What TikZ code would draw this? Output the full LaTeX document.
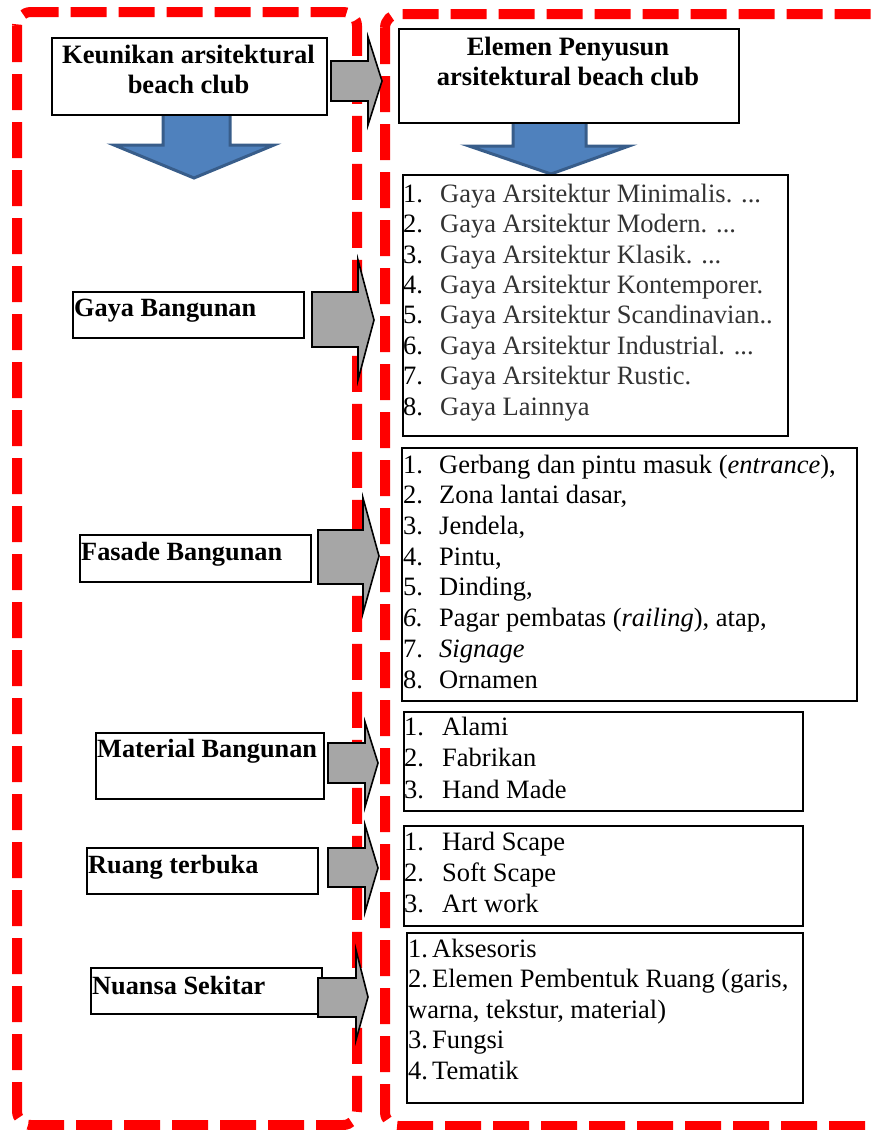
\documentclass[tikz,border=0pt]{standalone}
\usepackage{fontspec}
\setmainfont{Liberation Serif}
\definecolor{blueA}{HTML}{4F81BD}
\definecolor{blueB}{HTML}{385D8A}
\definecolor{grayA}{HTML}{A6A6A6}
\tikzset{
  redframe/.style={draw=red, line width=10pt, dash pattern=on 36pt off 12pt, rounded corners=14pt},
  labelbox/.style={draw=black, line width=1.8pt, fill=white, inner sep=0pt, anchor=north west},
  grayarrow/.style={fill=grayA, draw=black, line width=1.6pt, line join=miter},
  bluearrow/.style={fill=blueA, draw=blueB, line width=3pt},
  boldtext/.style={font=\bfseries\fontsize{26.3}{30}\selectfont, inner sep=0pt, anchor=base west},
  headtext/.style={font=\bfseries\fontsize{26.5}{30}\selectfont, inner sep=0pt, anchor=base, align=center},
  listtext/.style={inner sep=0pt, anchor=base west, align=left},
}
\newcommand\garrow[8]{\draw[grayarrow] (#1,#4) -- (#2,#4) -- (#2,#6) -- (#3,#8) -- (#2,#7) -- (#2,#5) -- (#1,#5) -- cycle;}
\newcommand\nm[2]{\makebox[#1pt][l]{#2}}
\begin{document}
\begin{tikzpicture}[x=1pt,y=-1pt]
\useasboundingbox (0,0) rectangle (871,1130);
\clip (0,0) rectangle (871,1130);
% red dashed frames
\draw[redframe] (17,12) rectangle (357,1125);
\draw[redframe] (385,14) rectangle (900,1126);
% blue arrows
\draw[bluearrow] (163,114) -- (230,114) -- (230,145) -- (274,145) -- (194,178) -- (114,145) -- (163,145) -- cycle;
\draw[bluearrow] (513,117) -- (586,117) -- (586,146) -- (629,146) -- (551,174) -- (469,146) -- (513,146) -- cycle;
% boxes
\node[labelbox, minimum width=275pt, minimum height=77pt] (k) at (51,37) {};
\node[labelbox, minimum width=340pt, minimum height=94pt] (e) at (398,28) {};
\node[labelbox, minimum width=231pt, minimum height=46pt] (gb) at (72,291) {};
\node[labelbox, minimum width=231pt, minimum height=47pt] (fb) at (79,534) {};
\node[labelbox, minimum width=228pt, minimum height=66pt] (mb) at (95,732) {};
\node[labelbox, minimum width=231pt, minimum height=46pt] (rt) at (86,847) {};
\node[labelbox, minimum width=231pt, minimum height=46pt] (ns) at (90,967) {};
\node[labelbox, minimum width=385pt, minimum height=261pt] (lg) at (402,174) {};
\node[labelbox, minimum width=455pt, minimum height=253pt] (lf) at (401,447) {};
\node[labelbox, minimum width=399pt, minimum height=99pt] (lm) at (403,711) {};
\node[labelbox, minimum width=399pt, minimum height=100pt] (lr) at (403,825) {};
\node[labelbox, minimum width=396pt, minimum height=170pt] (ln) at (406,932) {};
% gray arrows
\garrow{331}{368}{382}{61}{101}{37}{125}{81}
\garrow{312}{358}{374}{292}{347}{260}{380}{320}
\garrow{318}{363}{379}{530}{584}{498}{613}{556}
\garrow{328}{365}{378}{743}{783}{722}{807}{763}
\garrow{328}{365}{378}{848}{887}{825}{912}{868}
\garrow{318}{356}{368}{978}{1017}{950}{1040}{997}
% texts (multi-line nodes are anchored at the baseline of their last line)
\node[headtext] (kt) at (188.5,93) {Keunikan arsitektural\\beach club};
\node[headtext] (et) at (568,85) {Elemen Penyusun\\arsitektural beach club};
\node[boldtext] (gbt) at (74,316) {Gaya Bangunan};
\node[boldtext] (fbt) at (81,560) {Fasade Bangunan};
\node[boldtext] (mbt) at (97,757) {Material Bangunan};
\node[boldtext] (rtt) at (88,873) {Ruang terbuka};
\node[boldtext] (nst) at (92,994) {Nuansa Sekitar};
\node[listtext, font=\fontsize{26.5}{30.4}\selectfont] (lgt) at (403,415) {%
\nm{37}{1.}\textcolor{black!80}{Gaya Arsitektur Minimalis. ...}\\
\nm{37}{2.}\textcolor{black!80}{Gaya Arsitektur Modern. ...}\\
\nm{37}{3.}\textcolor{black!80}{Gaya Arsitektur Klasik. ...}\\
\nm{37}{4.}\textcolor{black!80}{Gaya Arsitektur Kontemporer.}\\
\nm{37}{5.}\textcolor{black!80}{Gaya Arsitektur Scandinavian..}\\
\nm{37}{6.}\textcolor{black!80}{Gaya Arsitektur Industrial. ...}\\
\nm{37}{7.}\textcolor{black!80}{Gaya Arsitektur Rustic.}\\
\nm{37}{8.}\textcolor{black!80}{Gaya Lainnya}};
\node[listtext, font=\fontsize{26.5}{30.7}\selectfont] (lft) at (403,688) {%
\nm{36}{1.}Gerbang dan pintu masuk (\textit{entrance}),\\
\nm{36}{2.}Zona lantai dasar,\\
\nm{36}{3.}Jendela,\\
\nm{36}{4.}Pintu,\\
\nm{36}{5.}Dinding,\\
\nm{36}{\textit{6.}}Pagar pembatas (\textit{railing}), atap,\\
\nm{36}{7.}\textit{Signage}\\
\nm{36}{8.}Ornamen};
\node[listtext, font=\fontsize{26.5}{31.5}\selectfont] (lmt) at (404,798) {%
\nm{38}{1.}Alami\\
\nm{38}{2.}Fabrikan\\
\nm{38}{3.}Hand Made};
\node[listtext, font=\fontsize{26.5}{31}\selectfont] (lrt) at (404,912) {%
\nm{38}{1.}Hard Scape\\
\nm{38}{2.}Soft Scape\\
\nm{38}{3.}Art work};
\node[listtext, font=\fontsize{26.5}{30.5}\selectfont] (lnt) at (408,1079) {%
\nm{24}{1.}Aksesoris\\
\nm{24}{2.}Elemen Pembentuk Ruang (garis,\\
warna, tekstur, material)\\
\nm{24}{3.}Fungsi\\
\nm{24}{4.}Tematik};
\end{tikzpicture}
\end{document}
